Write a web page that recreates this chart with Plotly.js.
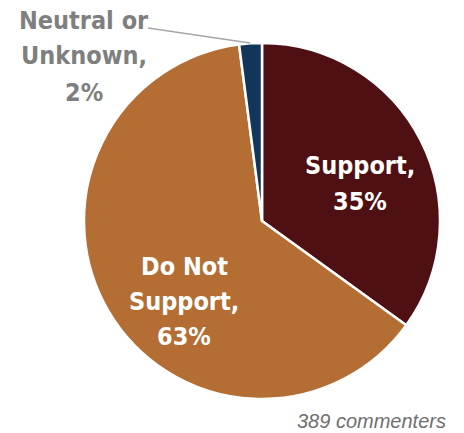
<!DOCTYPE html>
<html><head><meta charset="utf-8">
<script src="https://cdn.plot.ly/plotly-3.0.1.min.js"></script>
<style>html,body{margin:0;padding:0;background:#fff}</style>
</head><body><div id="chart" style="width:464px;height:433px"></div>
<script>
const categories = ["Support", "Do Not Support", "Neutral or Unknown"];
const counts = [136, 245, 8];
const percentLabels = ["35%", "63%", "2%"];
const colors = ["#4E1013", "#B46D33", "#12365A"];
const note = "389 commenters";

const W = 464, H = 433;
const px = x => x / W, py = y => 1 - y / H;
const font = "'DejaVu Sans Condensed', sans-serif";

const data = [{
  type: "pie",
  labels: categories,
  values: counts,
  sort: false,
  direction: "clockwise",
  rotation: 0,
  textinfo: "none",
  hoverinfo: "label+percent",
  marker: {colors: colors, line: {color: "#ffffff", width: 2.5}},
  domain: {x: [84 / W, 440 / W], y: [1 - 399 / H, 1 - 43 / H]},
  showlegend: false
}];

function lines(arr, y0, dy, color, x) {
  return arr.map((t, i) => ({
    xref: "paper", yref: "paper", x: px(x), y: py(y0 + i * dy), text: "<b>" + t + "</b>",
    showarrow: false, xanchor: "center", yanchor: "middle",
    font: {family: font, size: 25, color: color}
  }));
}
let annotations = [];
annotations = annotations.concat(lines(["Support,", percentLabels[0]], 165, 36, "#ffffff", 360));
annotations = annotations.concat(lines(["Do Not", "Support,", percentLabels[1]], 266, 35, "#ffffff", 184));
annotations = annotations.concat(lines(["Neutral or", "Unknown,", percentLabels[2]], 20, 36, "#7F7F7F", 84));
annotations.push({
  xref: "paper", yref: "paper", x: px(448), y: py(421), text: "<i>" + note + "</i>",
  showarrow: false, xanchor: "right", yanchor: "middle",
  font: {family: "'Liberation Sans', Arial, sans-serif", size: 20, color: "#6f6f6f"}
});

const layout = {
  width: W, height: H,
  margin: {l: 0, r: 0, t: 0, b: 0},
  paper_bgcolor: "#ffffff",
  annotations: annotations,
  shapes: [{type: "line", xref: "paper", yref: "paper",
    x0: px(148), y0: py(28), x1: px(250), y1: py(43),
    line: {color: "#A6A6A6", width: 1.5}}]
};

Plotly.newPlot("chart", data, layout, {displayModeBar: false, staticPlot: true});
</script></body></html>
